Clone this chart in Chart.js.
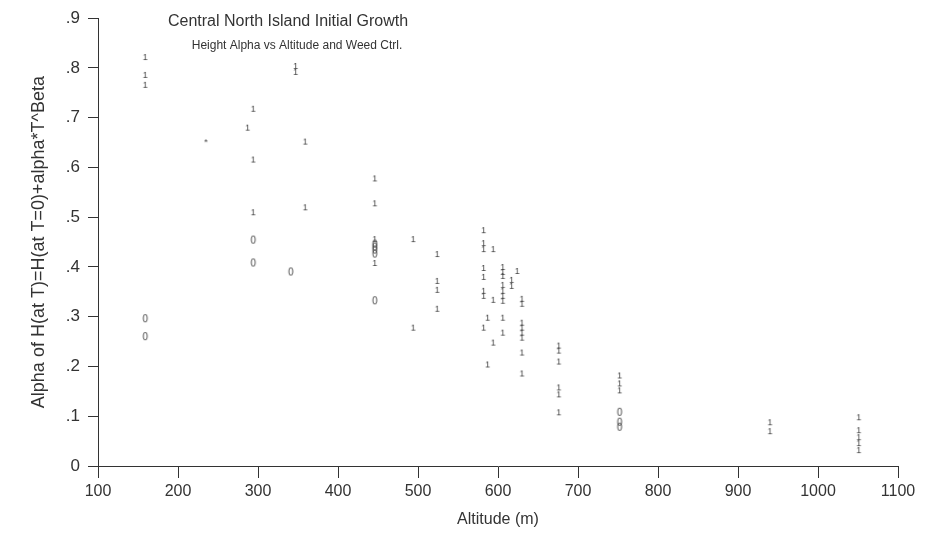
<!DOCTYPE html>
<html>
<head>
<meta charset="utf-8">
<title>Central North Island Initial Growth</title>
<script src="https://cdn.jsdelivr.net/npm/chart.js@4/dist/chart.umd.min.js"></script>
<style>
  html, body { margin: 0; padding: 0; background: #fff; }
  #wrap { width: 939px; height: 533px; position: relative; }
</style>
</head>
<body>
<div id="wrap"><canvas id="growth"></canvas></div>
<script>
// plots coded "1" (weed control)
const oneAlt = [159, 159, 159, 347, 347, 294, 294, 294, 287, 359, 359,
  446, 446, 446, 446, 494, 494, 524, 524, 524, 524,
  582, 582, 582, 582, 582, 582, 582, 582, 594, 594, 594, 587, 587,
  606, 606, 606, 606, 606, 606, 606, 606, 606, 617, 617, 624,
  630, 630, 630, 630, 630, 630, 630, 630,
  676, 676, 676, 676, 676, 676, 752, 752, 752, 940, 940,
  1051, 1051, 1051, 1051, 1051];
const oneAlpha = [.822, .786, .766, .804, .792, .718, .616, .51, .68, .652, .52,
  .578, .528, .456, .408, .456, .278, .426, .372, .354, .316,
  .474, .448, .436, .398, .38, .352, .342, .278, .436, .334, .248, .298, .204,
  .40, .39, .382, .364, .352, .342, .332, .298, .268, .374, .362, .392,
  .336, .326, .288, .278, .268, .258, .228, .186,
  .242, .232, .21, .158, .144, .108, .182, .166, .152, .088, .07,
  .098, .072, .058, .046, .032];

// plots coded "0" (no weed control)
const zeroAlt = [159, 159, 294, 294, 341, 446, 446, 446, 446, 446, 752, 752, 752];
const zeroAlpha = [.296, .26, .454, .408, .39, .446, .44, .434, .426, .332, .108, .088, .078];

// overlapping plot
const starAlt = [235];
const starAlpha = [.65];

const xTicks = [100, 200, 300, 400, 500, 600, 700, 800, 900, 1000, 1100];

const ink = '#333';
const sans = '"Liberation Sans", Arial, sans-serif';

function glyph(ch, size, w, h) {
  const c = document.createElement('canvas');
  c.width = w;
  c.height = h;
  const g = c.getContext('2d');
  g.fillStyle = '#444';
  g.font = size + 'px ' + sans;
  g.textAlign = 'center';
  g.textBaseline = 'middle';
  g.fillText(ch, w / 2, h / 2 + 0.5);
  return c;
}

function pairs(xs, ys) {
  return xs.map((x, i) => ({ x: x, y: ys[i] }));
}

// the two heading lines sit inside the plot area
const headings = {
  id: 'headings',
  afterDraw(chart) {
    const ctx = chart.ctx;
    const a = chart.chartArea;
    ctx.save();
    ctx.fillStyle = ink;
    ctx.textAlign = 'center';
    ctx.textBaseline = 'middle';
    ctx.font = '16px ' + sans;
    ctx.fillText('Central North Island Initial Growth', a.left + 190, a.top + 3);
    ctx.font = '12px ' + sans;
    ctx.fillText('Height Alpha vs Altitude and Weed Ctrl.', a.left + 199, a.top + 27);
    ctx.restore();
  }
};

new Chart(document.getElementById('growth'), {
  type: 'scatter',
  data: {
    datasets: [
      { label: '1', data: pairs(oneAlt, oneAlpha), pointStyle: glyph('1', 9, 7, 10) },
      { label: '0', data: pairs(zeroAlt, zeroAlpha), pointStyle: glyph('0', 10, 8, 11) },
      { label: '*', data: pairs(starAlt, starAlpha), pointStyle: glyph('*', 9, 7, 9) }
    ]
  },
  options: {
    responsive: true,
    maintainAspectRatio: false,
    animation: false,
    layout: { padding: { top: 16, right: 41, left: 0, bottom: 0 } },
    plugins: {
      legend: { display: false },
      tooltip: { enabled: false }
    },
    scales: {
      x: {
        type: 'linear',
        min: 100,
        max: 1100,
        afterBuildTicks: s => { s.ticks = xTicks.map(v => ({ value: v })); },
        afterFit: s => { s.height = 67; },
        border: { display: true, color: ink, width: 1 },
        grid: { drawOnChartArea: false, color: ink, tickLength: 12 },
        ticks: {
          color: ink,
          padding: 4,
          maxRotation: 0,
          font: { family: sans, size: 16 },
          callback: v => String(v)
        },
        title: {
          display: true,
          text: 'Altitude (m)',
          color: ink,
          padding: { top: 0 },
          font: { family: sans, size: 16 }
        }
      },
      y: {
        min: 0,
        max: 0.9,
        afterFit: s => { s.width = 98; },
        border: { display: true, color: ink, width: 1 },
        grid: { drawOnChartArea: false, color: ink, tickLength: 10 },
        ticks: {
          stepSize: 0.1,
          color: ink,
          padding: 8,
          font: { family: sans, size: 17 },
          callback: v => v === 0 ? '0' : v.toFixed(1).replace(/^0/, '')
        },
        title: {
          display: true,
          text: 'Alpha of H(at T)=H(at T=0)+alpha*T^Beta',
          color: ink,
          padding: { top: 28, bottom: 0 },
          font: { family: sans, size: 18 }
        }
      }
    }
  },
  plugins: [headings]
});
</script>
</body>
</html>
